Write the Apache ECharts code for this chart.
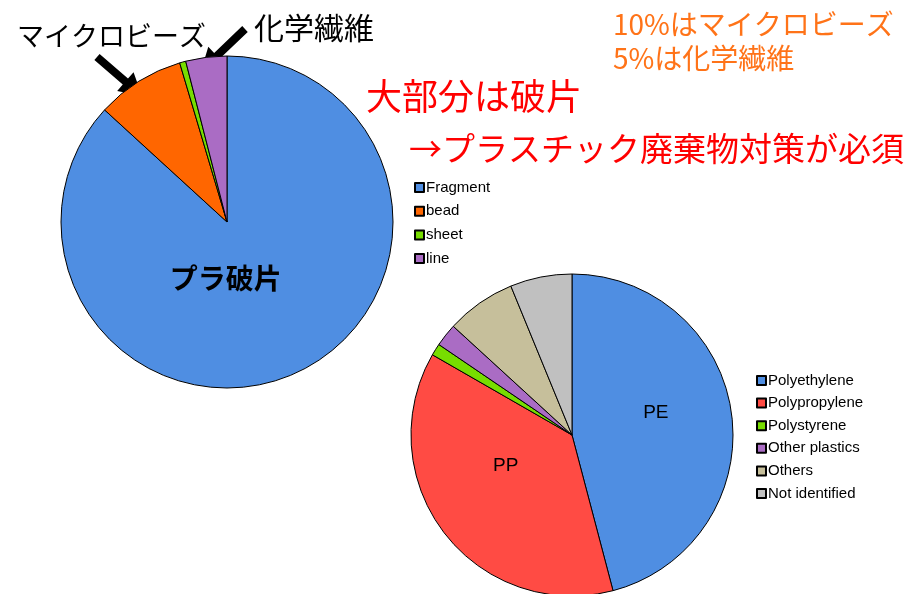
<!DOCTYPE html>
<html><head><meta charset="utf-8">
<script src="https://cdn.jsdelivr.net/npm/echarts@6/dist/echarts.min.js"></script>
<style>html,body{margin:0;padding:0;background:#fff}#c{width:917px;height:594px}</style>
</head><body><div id="c"></div>
<script>
// Pie 1: particle shapes (%)
var shapeNames = ['Fragment', 'bead', 'sheet', 'line'];
var shapeValues = [86.8, 8.6, 0.6, 4.0];
var shapeColors = ['#4F8EE2', '#FF6600', '#77DD00', '#AA6CC4'];
// Pie 2: polymer types (%)
var polyNames = ['Polyethylene', 'Polypropylene', 'Polystyrene', 'Other plastics', 'Others', 'Not identified'];
var polyValues = [45.9, 37.4, 1.2, 2.3, 7.0, 6.2];
var polyColors = ['#4F8EE2', '#FF4B44', '#77DD00', '#AA6CC4', '#C6BF9B', '#C0C0C0'];

var JP = '"Noto Sans CJK JP", sans-serif';
var EN = '"Liberation Sans", Arial, sans-serif';

function arrow(x1, y1, x2, y2, sw, hw, hl) {
  var dx = x2 - x1, dy = y2 - y1, L = Math.sqrt(dx*dx + dy*dy);
  var ux = dx / L, uy = dy / L, px = -uy, py = ux;
  var bx = x2 - ux * hl, by = y2 - uy * hl;
  return {
    type: 'polygon',
    shape: { points: [
      [x1 + px*sw/2, y1 + py*sw/2], [bx + px*sw/2, by + py*sw/2], [bx + px*hw/2, by + py*hw/2],
      [x2, y2],
      [bx - px*hw/2, by - py*hw/2], [bx - px*sw/2, by - py*sw/2], [x1 - px*sw/2, y1 - py*sw/2]
    ]},
    style: { fill: '#000' }
  };
}

var chart = echarts.init(document.getElementById('c'));
chart.setOption({
  animation: false,
  legend: [
    { data: shapeNames, orient: 'vertical', left: 409, top: 175, itemWidth: 9, itemHeight: 9, itemGap: 8.7,
      icon: 'rect', textStyle: { fontFamily: EN, fontSize: 15, color: '#000', padding: [0,0,0,-3] } },
    { data: polyNames, orient: 'vertical', left: 751, top: 368, itemWidth: 9, itemHeight: 9, itemGap: 7.6,
      icon: 'rect', textStyle: { fontFamily: EN, fontSize: 15, color: '#000', padding: [0,0,0,-3] } }
  ],
  series: [
    {
      type: 'pie', center: [227, 222], radius: 166, startAngle: 90, clockwise: true,
      silent: true, labelLine: { show: false },
      itemStyle: { borderColor: '#000', borderWidth: 1 },
      label: { show: false },
      data: shapeNames.map(function (n, i) {
        var d = { name: n, value: shapeValues[i], itemStyle: { color: shapeColors[i] } };
        if (i === 0) d.label = { show: true, position: 'inside', formatter: 'プラ破片', offset: [-36, -22],
          fontFamily: JP, fontSize: 28, fontWeight: 'bold', color: '#000' };
        return d;
      })
    },
    {
      type: 'pie', center: [572, 435], radius: 161, startAngle: 90, clockwise: true,
      silent: true, labelLine: { show: false },
      itemStyle: { borderColor: '#000', borderWidth: 1 },
      label: { show: false },
      data: polyNames.map(function (n, i) {
        var d = { name: n, value: polyValues[i], itemStyle: { color: polyColors[i] } };
        if (i === 0) d.label = { show: true, position: 'inside', formatter: 'PE', offset: [1, -12],
          fontFamily: EN, fontSize: 19, color: '#000' };
        if (i === 1) d.label = { show: true, position: 'inside', formatter: 'PP', offset: [0, -20],
          fontFamily: EN, fontSize: 19, color: '#000' };
        return d;
      })
    }
  ],
  graphic: [
    { type: 'text', left: 17, top: 22, style: { text: 'マイクロビーズ', font: '27px ' + JP, fill: '#000' } },
    { type: 'text', left: 254, top: 13, style: { text: '化学繊維', font: '30px ' + JP, fill: '#000' } },
    { type: 'text', left: 613, top: 7, style: { text: '10%はマイクロビーズ\n5%は化学繊維', font: '28px ' + JP, fill: '#FF7318', lineHeight: 34 } },
    { type: 'text', left: 366, top: 78, style: { text: '大部分は破片', font: '36px ' + JP, fill: '#FF0000' } },
    { type: 'text', left: 409, top: 132, style: { text: '→プラスチック廃棄物対策が必須', font: '33px ' + JP, fill: '#FF0000' } },
    arrow(97, 57, 142, 96, 8, 25, 22),
    arrow(245, 29, 201, 71, 8, 25, 22)
  ]
});
</script></body></html>
